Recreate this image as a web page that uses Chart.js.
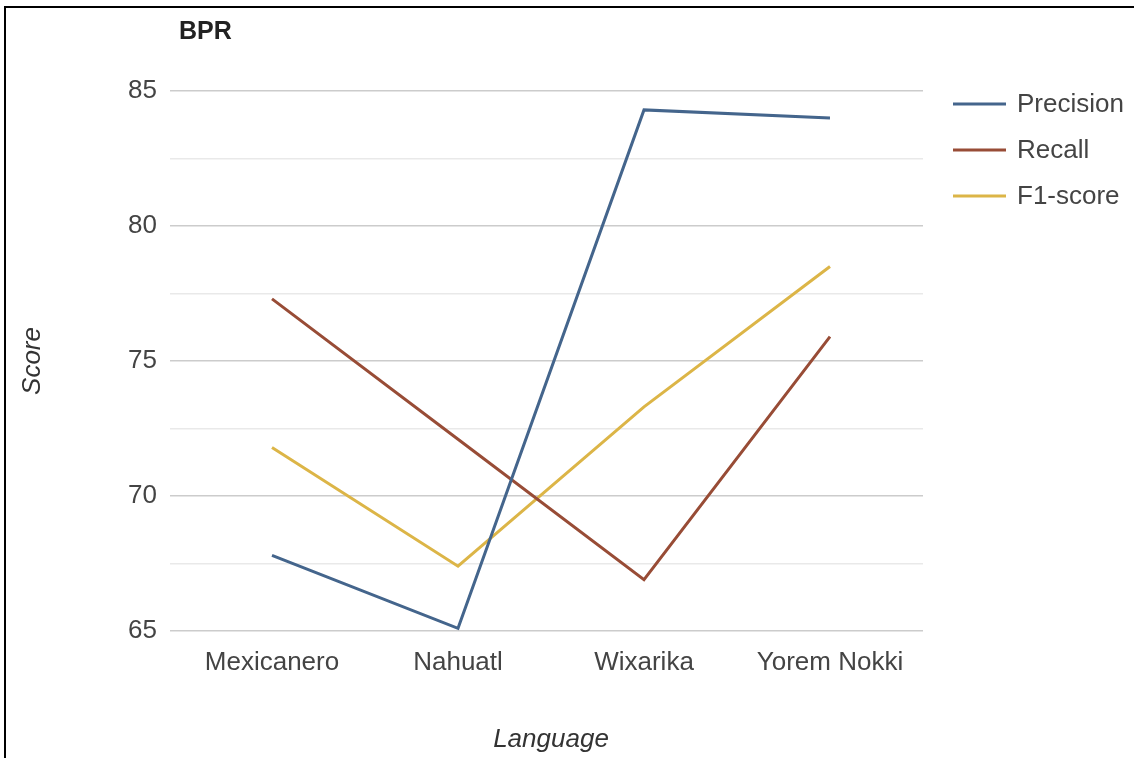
<!DOCTYPE html>
<html>
<head>
<meta charset="utf-8">
<script src="https://cdn.jsdelivr.net/npm/chart.js@4"></script>
<style>
  html, body { margin: 0; padding: 0; background: #fff; }
  #wrap { position: relative; width: 1134px; height: 758px; overflow: hidden; }
  #frame { position: absolute; left: 4px; top: 6px; width: 1200px; height: 800px;
           border-top: 2px solid #000; border-left: 2px solid #000; pointer-events: none; }
  canvas { position: absolute; left: 0; top: 0; }
</style>
</head>
<body>
<div id="wrap">
  <canvas id="c" width="1134" height="758"></canvas>
  <div id="frame"></div>
</div>
<script>
const categories = ["Mexicanero", "Nahuatl", "Wixarika", "Yorem Nokki"];
const precision = [67.8, 65.1, 84.3, 84.0];
const recall = [77.3, 72.1, 66.9, 75.9];
const f1score = [71.8, 67.4, 73.3, 78.5];
const seriesNames = ["Precision", "Recall", "F1-score"];
const seriesColors = ["#44658c", "#984c36", "#dcb547"];
const yMin = 65, yMax = 85, yStep = 2.5;

const FONT = "'Liberation Sans', Arial, sans-serif";

const legendPlugin = {
  id: 'customLegend',
  afterDraw(chart) {
    const ctx = chart.ctx;
    ctx.save();
    chart.data.datasets.forEach((ds, i) => {
      const y = 104 + 46 * i;
      ctx.strokeStyle = ds.borderColor;
      ctx.lineWidth = 3;
      ctx.beginPath();
      ctx.moveTo(953, y);
      ctx.lineTo(1006, y);
      ctx.stroke();
      ctx.fillStyle = '#444';
      ctx.font = "26px " + FONT;
      ctx.textBaseline = 'middle';
      ctx.textAlign = 'left';
      ctx.fillText(ds.label, 1017, y + 1);
    });
    ctx.restore();
  }
};

new Chart(document.getElementById('c'), {
  type: 'line',
  data: {
    labels: categories,
    datasets: [
      { label: seriesNames[0], data: precision, borderColor: seriesColors[0] },
      { label: seriesNames[1], data: recall, borderColor: seriesColors[1] },
      { label: seriesNames[2], data: f1score, borderColor: seriesColors[2] }
    ].map(d => Object.assign(d, { borderWidth: 3, pointRadius: 0, tension: 0, fill: false, backgroundColor: d.borderColor }))
  },
  options: {
    responsive: false,
    animation: false,
    devicePixelRatio: 1,
    layout: { padding: { top: 0, right: 211, bottom: 0, left: 0 } },
    plugins: {
      legend: { display: false },
      tooltip: { enabled: false },
      title: {
        display: true,
        text: 'BPR',
        align: 'start',
        fullSize: false,
        color: '#222',
        font: { family: FONT, size: 25, weight: 'bold', lineHeight: 1.2 },
        padding: { top: 17, bottom: 44 }
      }
    },
    scales: {
      x: {
        type: 'category',
        offset: true,
        grid: { display: false, drawTicks: false },
        border: { display: false },
        ticks: { color: '#444', font: { family: FONT, size: 26 }, padding: 16, maxRotation: 0 },
        title: {
          display: true, text: 'Language', color: '#333',
          font: { family: FONT, size: 26, style: 'italic' },
          padding: { top: 0, bottom: 3 }
        },
        afterFit(s) { s.height = 127; }
      },
      y: {
        min: yMin, max: yMax,
        border: { display: false },
        grid: {
          color: (c) => (c.tick && c.tick.value % 5 === 0) ? '#cccccc' : '#e9e9e9',
          tickColor: (c) => (c.tick && c.tick.value % 5 === 0) ? '#cccccc' : '#e9e9e9',
          lineWidth: 1.5,
          tickLength: 9,
          drawTicks: true
        },
        ticks: {
          stepSize: yStep,
          color: '#444',
          font: { family: FONT, size: 26 },
          padding: 13,
          callback: (v) => (v % 5 === 0 ? String(v) : '')
        },
        title: {
          display: true, text: 'Score', color: '#333',
          font: { family: FONT, size: 26, style: 'italic' },
          padding: { top: 17, bottom: 0 }
        },
        afterFit(s) { s.width = 179; }
      }
    }
  },
  plugins: [legendPlugin]
});
</script>
</body>
</html>
